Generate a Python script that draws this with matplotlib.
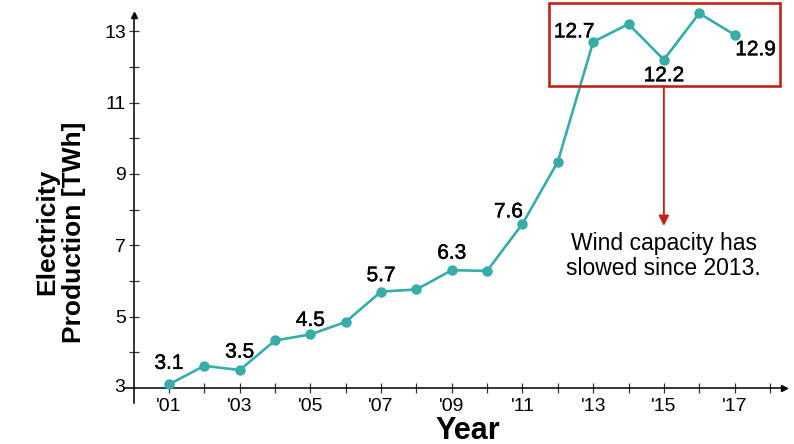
import matplotlib
matplotlib.use("Agg")
import matplotlib.pyplot as plt
import matplotlib.patheffects as pe
from matplotlib.patches import Rectangle

plt.rcParams['font.family'] = ['Liberation Sans', 'DejaVu Sans']

years = list(range(2001, 2018))
production = [3.1, 3.62, 3.5, 4.33, 4.5, 4.85, 5.7, 5.76, 6.3, 6.28,
              7.6, 9.34, 12.7, 13.2, 12.2, 13.5, 12.9]

# value labels: year -> offset in pixels from the point
labelled = {2001: (0, 21), 2003: (0, 18), 2005: (0, 14), 2007: (0, 16),
            2009: (0, 17), 2011: (-14, 12), 2013: (-19, 10),
            2015: (0, -16), 2017: (21, -15)}

xtick_years = list(range(2001, 2019))
xtick_labels = ["'%02d" % (y % 100) if (y % 2 == 1 and y <= 2017) else ""
                for y in xtick_years]
ytick_vals = list(range(4, 14))
ytick_labels = [str(v) if v % 2 == 1 else "" for v in ytick_vals]

note_text = "Wind capacity has\nslowed since 2013."

teal = "#38aca8"
red = "#c0231b"

fig = plt.figure(figsize=(7.94, 4.44), dpi=100)
ax = fig.add_axes([0.1505, 0.0861, 0.8414, 0.912])
ax.set_xlim(1999.6, 2018.5)
ax.set_ylim(2.5, 13.85)

ax.plot(years, production, color=teal, lw=1.9, marker='o', ms=6.5,
        clip_on=False, zorder=3)

medium = [pe.withStroke(linewidth=0.35, foreground='black')]
for yr, (dx, dy) in labelled.items():
    v = production[years.index(yr)]
    ax.annotate(f"{v:.1f}", (yr, v), xytext=(dx, dy), textcoords='offset pixels',
                ha='center', va='center', fontsize=15, color='black', zorder=4,
                path_effects=medium)

# crossing axes with arrow heads
for s in ['top', 'right']:
    ax.spines[s].set_visible(False)
ax.spines['left'].set_position(('data', 2000))
ax.spines['bottom'].set_position(('data', 3))
ax.spines['left'].set_bounds(2.58, 13.45)
ax.spines['bottom'].set_bounds(1999.76, 2018.4)
for s in ['left', 'bottom']:
    ax.spines[s].set_linewidth(1.1)
ax.plot([2000], [13.45], marker='^', ms=4, color='black', clip_on=False)
ax.plot([2018.4], [3], marker='>', ms=4, color='black', clip_on=False)

ax.set_xticks(xtick_years)
ax.set_xticklabels(xtick_labels)
ax.set_yticks(ytick_vals)
ax.set_yticklabels(ytick_labels)
ax.tick_params(direction='inout', length=7, width=0.9, color='#333333',
               labelsize=14)
ax.tick_params(axis='x', pad=4)
ax.tick_params(axis='y', pad=2)
# label "3" at the axis crossing
ax.text(2000 - 0.25, 3, "3", ha='right', va='center', fontsize=14)

# highlight box and callout
ax.add_patch(Rectangle((2011.74, 11.46), 6.54, 2.33, fill=False,
                       edgecolor=red, lw=1.9, clip_on=False, zorder=5))
ax.annotate("", xy=(2015, 7.54), xytext=(2015, 11.46),
            arrowprops=dict(arrowstyle='-|>,head_length=0.6,head_width=0.3',
                            color=red, lw=1.4, mutation_scale=10,
                            shrinkA=0, shrinkB=0))
ax.text(2015, 6.69, note_text, ha='center', va='center', fontsize=16.5,
        linespacing=1.1)

fig.text(468 / 794, 1 - 439 / 444, "Year", ha='center', va='baseline',
         fontsize=22, fontweight='bold')
fig.text(61 / 794, 1 - 232 / 444, "Electricity\nProduction [TWh]",
         ha='center', va='center', rotation=90, fontsize=19,
         fontweight='bold', linespacing=1.15, multialignment='center')

fig.savefig("out.png", dpi=100)
